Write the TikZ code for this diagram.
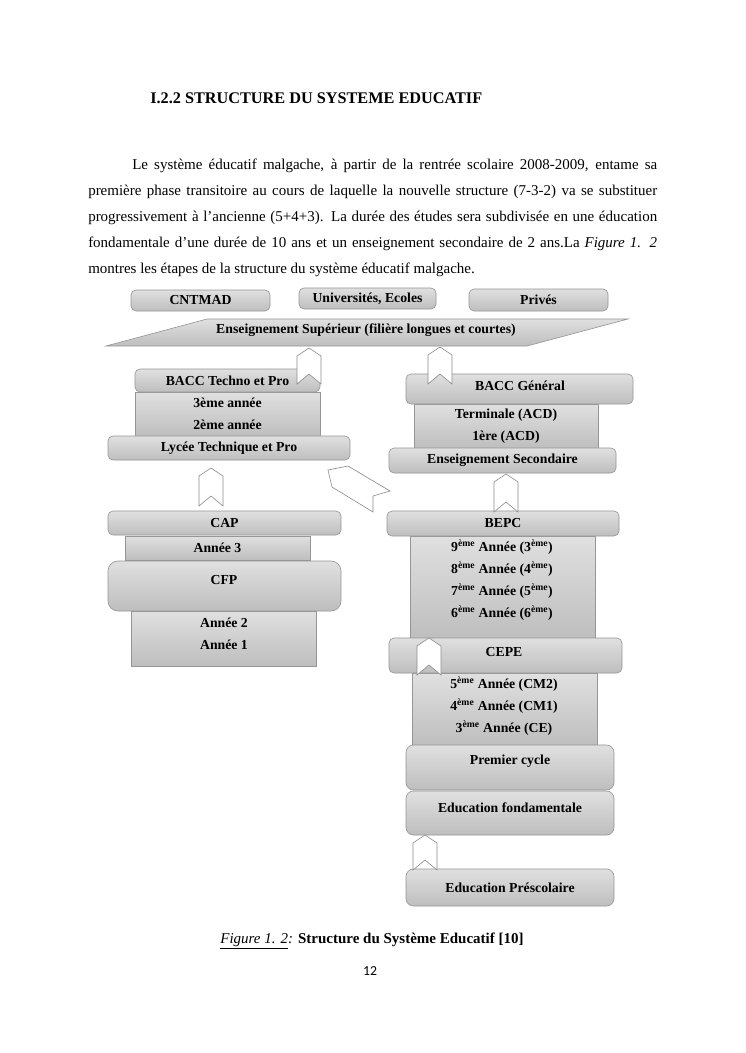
\documentclass[tikz,border=0pt]{standalone}
\usepackage{fontspec}
\setmainfont{Liberation Serif}[BoldFont={Liberation Serif Bold}, ItalicFont={Liberation Serif Italic}]
\newfontfamily\pagenumfont{Carlito}
\definecolor{boxtop}{RGB}{224,224,224}
\definecolor{boxbottom}{RGB}{190,190,190}
\definecolor{boxline}{RGB}{150,150,150}
\definecolor{chevline}{RGB}{140,140,140}

\begin{document}
\begin{tikzpicture}[x=0.8pt, y=-0.8pt,
      para/.style={inner sep=0pt, font=\fontsize{12}{14}\selectfont},
      sz/.style 2 args={minimum width=#1*0.8pt, minimum height=#2*0.8pt},
      hbox/.style={rectangle, rounded corners=4pt, draw=boxline, line width=0.5pt, top color=boxtop, bottom color=boxbottom, inner sep=0pt, font=\fontsize{11}{17.6}\selectfont\bfseries, align=center},
      cbox/.style={hbox, rounded corners=0pt},
      lbl/.style={inner sep=0pt, font=\fontsize{11}{17.6}\selectfont\bfseries, align=center},
      chev/.style={draw=chevline, fill=white, line width=0.5pt}
    ]
      \useasboundingbox[fill=white] (0,0) rectangle (745,1053);

      % Heading and text
      \node[para, anchor=base west, font=\fontsize{13}{15}\selectfont\bfseries] (title) at (150,103) {I.2.2 STRUCTURE DU SYSTEME EDUCATIF};
      \node[para, anchor=base west] (line1) at (132,169) {\makebox[420pt][s]{Le système éducatif malgache, à partir de la rentrée scolaire 2008-2009, entame sa}};
      \node[para, anchor=base west] (line2) at (88,195) {\makebox[455.2pt][s]{première phase transitoire au cours de laquelle la nouvelle structure (7-3-2) va se substituer}};
      \node[para, anchor=base west] (line3) at (88,221) {\makebox[455.2pt][s]{progressivement à l’ancienne (5+4+3). La durée des études sera subdivisée en une éducation}};
      \node[para, anchor=base west] (line4) at (88,247) {\makebox[455.2pt][s]{fondamentale d’une durée de 10 ans et un enseignement secondaire de 2 ans.La \textit{Figure 1. 2}}};
      \node[para, anchor=base west] (line5) at (88,273) {montres les étapes de la structure du système éducatif malgache.};

      % Higher education
      \node[hbox, sz={139}{21}] (cntmad) at (200.5,300.5) {CNTMAD};
      \node[hbox, sz={137}{21}] (univ) at (367.5,298.5) {Universités, Ecoles};
      \node[hbox, sz={139}{22}] (prives) at (538.5,300) {Privés};
      \path[draw=boxline, line width=0.5pt, top color=boxtop, bottom color=boxbottom] (106,346) -- (207,319) -- (628,319) -- (527,346) -- cycle;
      \node[lbl] (sup) at (366,330) {Enseignement Supérieur (filière longues et courtes)};

      % Left column: technical path
      \node[cbox, sz={185}{44}] (techyears) at (227.5,414) {3ème année\\2ème année};
      \node[hbox, sz={185}{23}] (bacctech) at (227.5,380.5) {BACC Techno et Pro};
      \node[hbox, sz={242}{24}] (lycee) at (229,448) {Lycée Technique et Pro};
      \node[hbox, sz={233}{24}] (cap) at (224.5,523) {CAP};
      \node[cbox, sz={185}{24}] (annee3) at (217.5,548) {Année 3};
      \node[cbox, sz={185}{55}] (annee12) at (223.5,638.5) {};
      \node[lbl] (annee12txt) at (224,633.5) {Année 2\\Année 1};
      \node[hbox, rounded corners=8pt, sz={233}{50}] (cfp) at (224.5,586) {};
      \node[lbl] (cfptxt) at (224,580) {CFP};

      % Right column: general path
      \node[cbox, sz={184}{44}] (lycyears) at (506,426) {Terminale (ACD)\\1ère (ACD)};
      \node[hbox, sz={227}{30}] (baccgen) at (519.5,389) {};
      \node[lbl] (baccgentxt) at (520,386) {BACC Général};
      \node[hbox, sz={227}{25}] (secondaire) at (502.5,460.5) {Enseignement Secondaire};
      \node[cbox, sz={185}{102}] (college) at (502.5,587) {};
      \node[lbl] (collegetxt) at (502,580.5) {9\textsuperscript{ème} Année (3\textsuperscript{ème})\\8\textsuperscript{ème} Année (4\textsuperscript{ème})\\7\textsuperscript{ème} Année (5\textsuperscript{ème})\\6\textsuperscript{ème} Année (6\textsuperscript{ème})};
      \node[hbox, sz={232}{25}] (bepc) at (503,523.5) {BEPC};
      \node[cbox, sz={185}{72}] (primaire) at (504.5,709) {};
      \node[lbl] (primairetxt) at (504,706.5) {5\textsuperscript{ème} Année (CM2)\\4\textsuperscript{ème} Année (CM1)\\3\textsuperscript{ème} Année (CE)};
      \node[hbox, sz={233}{35}] (cepe) at (505.5,655.5) {};
      \node[lbl] (cepetxt) at (504,652) {CEPE};
      \node[hbox, rounded corners=6pt, sz={208}{45}] (premier) at (510,767.5) {};
      \node[lbl] (premiertxt) at (510,761) {Premier cycle};
      \node[hbox, rounded corners=6pt, sz={208}{44}] (fondamentale) at (510,813) {};
      \node[lbl] (fondtxt) at (510,808) {Education fondamentale};
      \node[hbox, rounded corners=6pt, sz={208}{37}] (prescolaire) at (510,887.5) {Education Préscolaire};

      % Chevrons
      \foreach \xl/\yt/\yb in {297/348/384, 428/347/384, 199/468/506, 494/474/512, 417/638/675, 413/835/870}
        \draw[chev] (\xl,\yt+8) -- (\xl+12,\yt) -- (\xl+24,\yt+8) -- (\xl+24,\yb) -- (\xl+12,\yb-10) -- (\xl,\yb) -- cycle;
      \draw[chev] (328,470) -- (348,466) -- (390,491) -- (373,496) -- (373,512) -- (332,487) -- cycle;

      % Caption
      \node[para, anchor=base] (caption) at (372,943) {\underline{\textit{Figure 1. 2}}\textit{:} \textbf{Structure du Système Educatif [10]}};
      \node[para, anchor=base, font=\pagenumfont\fontsize{11}{13}\selectfont] (pagenum) at (370,975) {12};
    \end{tikzpicture}
\end{document}
